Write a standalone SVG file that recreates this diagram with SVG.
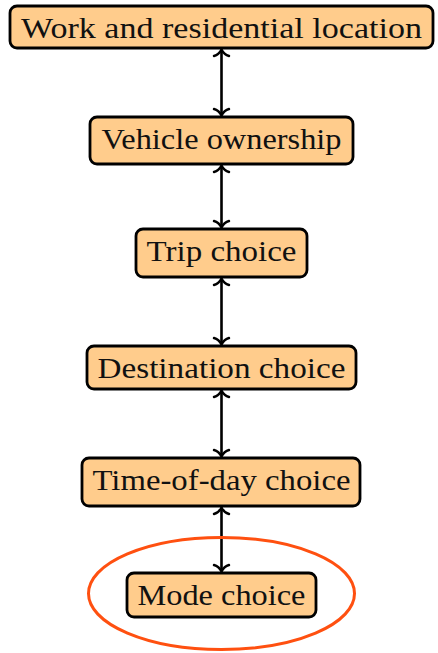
<svg xmlns="http://www.w3.org/2000/svg" width="438" height="653" viewBox="0 0 438 653">
<style>
.box{fill:#FFCC8C;stroke:#000;stroke-width:2.8}
.lbl{font-family:'Liberation Serif','Times New Roman',serif;font-size:29px;fill:#111;text-anchor:middle}
.conn{stroke:#000;stroke-width:2.6;fill:none;marker-start:url(#ah);marker-end:url(#ah)}
</style>
<defs>
<marker id="ah" markerUnits="userSpaceOnUse" viewBox="-10 -10 12 20" refX="0" refY="0" markerWidth="12" markerHeight="20" orient="auto-start-reverse">
<path d="M-6.5,-7.5 C-5.5,-3.5 -2,-1 0,0 C-2,1 -5.5,3.5 -6.5,7.5" fill="none" stroke="#000" stroke-width="2.4" stroke-linecap="round"/>
</marker>
</defs>
<g id="connectors">
<line class="conn" x1="221.5" y1="49.5" x2="221.5" y2="115.5"/>
<line class="conn" x1="221.5" y1="165.5" x2="221.5" y2="227.5"/>
<line class="conn" x1="221.5" y1="278.5" x2="221.5" y2="344.5"/>
<line class="conn" x1="221.5" y1="390.5" x2="221.5" y2="456.5"/>
<line class="conn" x1="221.5" y1="507.5" x2="221.5" y2="571.5"/>
</g>
<g id="n1"><rect class="box" x="10" y="6" width="423" height="42" rx="7"/><text class="lbl" x="221.5" y="37.5" textLength="401" lengthAdjust="spacingAndGlyphs">Work and residential location</text></g>
<g id="n2"><rect class="box" x="90" y="117" width="263" height="47" rx="7"/><text class="lbl" x="221.5" y="148.5" textLength="240" lengthAdjust="spacingAndGlyphs">Vehicle ownership</text></g>
<g id="n3"><rect class="box" x="136" y="229" width="171" height="48" rx="7"/><text class="lbl" x="221.5" y="260.5" textLength="150" lengthAdjust="spacingAndGlyphs">Trip choice</text></g>
<g id="n4"><rect class="box" x="87" y="346" width="269" height="43" rx="7"/><text class="lbl" x="221.5" y="377.5" textLength="248" lengthAdjust="spacingAndGlyphs">Destination choice</text></g>
<g id="n5"><rect class="box" x="82" y="458" width="278" height="48" rx="7"/><text class="lbl" x="221.5" y="489.5" textLength="258" lengthAdjust="spacingAndGlyphs">Time-of-day choice</text></g>
<g id="n6"><rect class="box" x="127" y="573" width="189" height="44" rx="7"/><text class="lbl" x="221.5" y="604.5" textLength="168" lengthAdjust="spacingAndGlyphs">Mode choice</text></g>
<g id="highlight"><ellipse cx="221.5" cy="593.5" rx="133" ry="56" fill="none" stroke="#FF5010" stroke-width="3"/></g>
</svg>
